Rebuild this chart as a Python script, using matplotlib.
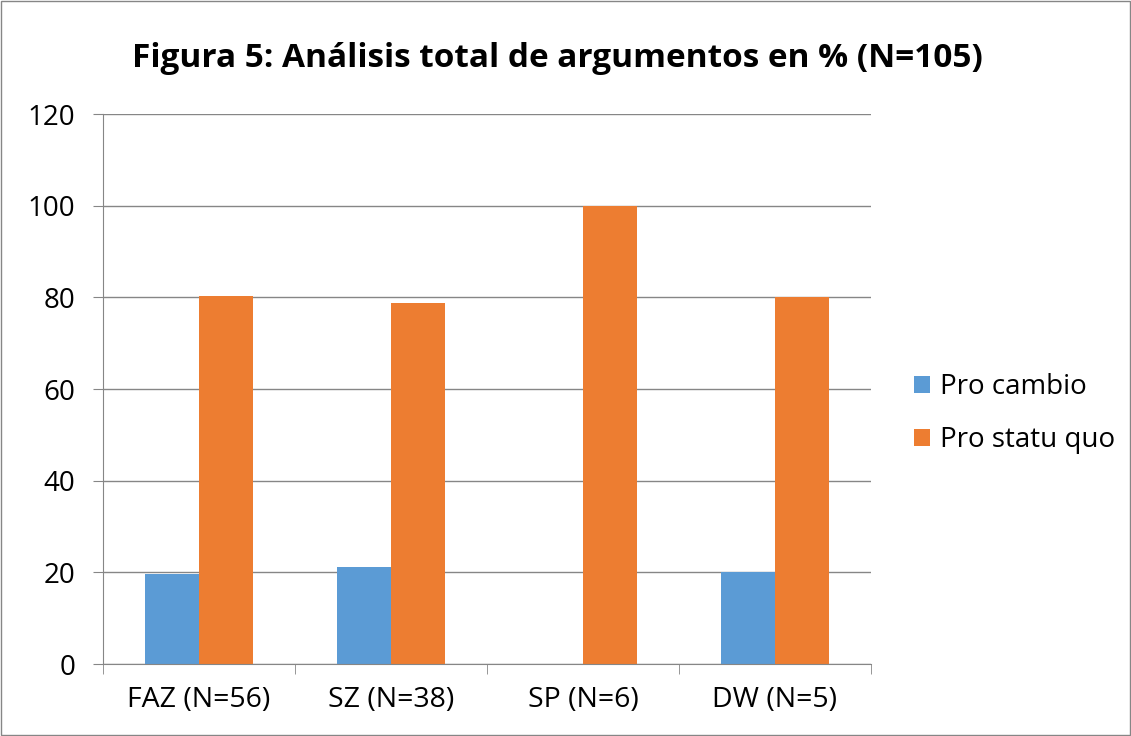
import numpy as np
import matplotlib.pyplot as plt

categories = ['FAZ (N=56)', 'SZ (N=38)', 'SP (N=6)', 'DW (N=5)']
pro_cambio = [19.6, 21.1, 0, 20]
pro_statu_quo = [80.4, 78.9, 100, 80]

plt.rcParams['font.family'] = ['Open Sans', 'DejaVu Sans']

fig = plt.figure(figsize=(11.31, 7.36), dpi=100)
ax = fig.add_axes([0.0911, 0.0978, 0.679, 0.747])

x = np.arange(len(categories))
w = 0.28
ax.bar(x - w / 2, pro_cambio, w, color='#5B9BD5', label='Pro cambio')
ax.bar(x + w / 2, pro_statu_quo, w, color='#ED7D31', label='Pro statu quo')

ax.set_xlim(-0.5, len(categories) - 0.5)
ax.set_ylim(0, 120)
ax.set_yticks(range(0, 121, 20))
ax.yaxis.grid(True, color='#868686', linewidth=1)
ax.set_axisbelow(True)

ax.set_xticks(x)
ax.set_xticklabels(categories, fontsize=20.5)
ax.tick_params(axis='x', length=0, pad=16)
ax.set_xticks(np.arange(-0.5, len(categories)), minor=True)
ax.tick_params(axis='x', which='minor', length=7, color='#868686')
ax.tick_params(axis='y', labelsize=20, length=7, color='#868686', pad=13)

for s in ['top', 'right']:
    ax.spines[s].set_visible(False)
for s in ['left', 'bottom']:
    ax.spines[s].set_color('#868686')

fig.text(0.493, 0.921, 'Figura 5: Análisis total de argumentos en % (N=105)', fontsize=24,
         fontweight='bold', ha='center', va='center')

ax.legend(loc='center left', bbox_to_anchor=(1.023, 0.455), frameon=False,
          fontsize=20, handlelength=0.6, handleheight=0.6, labelspacing=0.9,
          handletextpad=0.35)

fig.patches.append(plt.Rectangle((0.001, 0.001), 0.998, 0.998, transform=fig.transFigure,
                                 fill=False, edgecolor='#868686', linewidth=1))

fig.savefig('out.png', dpi=100)
